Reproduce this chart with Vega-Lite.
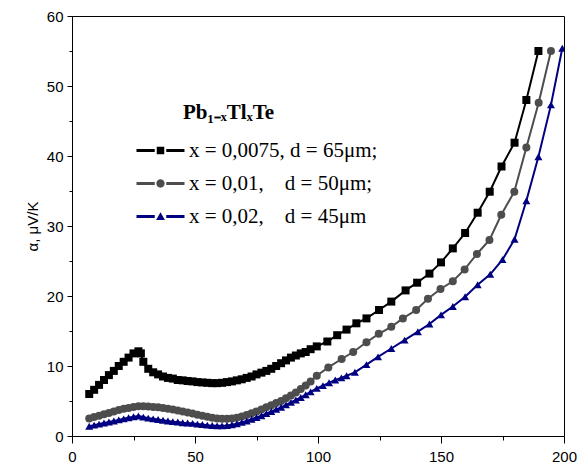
{
  "$schema": "https://vega.github.io/schema/vega-lite/v6.json",
  "width": 492,
  "height": 420,
  "autosize": "none",
  "padding": {"left": 72, "top": 16, "right": 23, "bottom": 36},
  "config": {
    "view": {"stroke": "#000000", "strokeWidth": 1},
    "axis": {
      "domainColor": "#000000", "tickColor": "#000000", "labelColor": "#000000",
      "titleColor": "#000000", "labelFont": "Liberation Sans", "titleFont": "Liberation Sans",
      "grid": false, "labelFlush": false
    }
  },
  "data": {
    "values": [
      {"s":"a","x":7,"y":6.0},{"s":"a","x":9,"y":6.6},{"s":"a","x":11,"y":7.3},{"s":"a","x":13,"y":8.0},{"s":"a","x":15,"y":8.7},{"s":"a","x":17,"y":9.3},{"s":"a","x":19,"y":10.0},{"s":"a","x":21,"y":10.6},{"s":"a","x":23,"y":11.2},{"s":"a","x":25,"y":11.8},{"s":"a","x":27,"y":12.1},{"s":"a","x":28,"y":11.8},{"s":"a","x":29,"y":10.6},{"s":"a","x":31,"y":9.6},{"s":"a","x":33,"y":9.1},{"s":"a","x":35,"y":8.8},{"s":"a","x":37,"y":8.5},{"s":"a","x":39,"y":8.3},{"s":"a","x":41,"y":8.2},{"s":"a","x":43,"y":8.0},{"s":"a","x":45,"y":7.95},{"s":"a","x":47,"y":7.85},{"s":"a","x":49,"y":7.8},{"s":"a","x":51,"y":7.7},{"s":"a","x":53,"y":7.65},{"s":"a","x":55,"y":7.6},{"s":"a","x":57,"y":7.55},{"s":"a","x":59,"y":7.55},{"s":"a","x":61,"y":7.6},{"s":"a","x":63,"y":7.7},{"s":"a","x":65,"y":7.8},{"s":"a","x":67,"y":7.95},{"s":"a","x":69,"y":8.1},{"s":"a","x":71,"y":8.3},{"s":"a","x":73,"y":8.5},{"s":"a","x":75,"y":8.8},{"s":"a","x":77,"y":9.05},{"s":"a","x":79,"y":9.3},{"s":"a","x":81,"y":9.6},{"s":"a","x":83,"y":10.0},{"s":"a","x":85,"y":10.4},{"s":"a","x":87,"y":10.8},{"s":"a","x":89,"y":11.2},{"s":"a","x":91,"y":11.5},{"s":"a","x":93,"y":11.8},{"s":"a","x":95,"y":12.0},{"s":"a","x":97,"y":12.4},{"s":"a","x":99.5,"y":12.8},{"s":"a","x":103.8,"y":13.5},{"s":"a","x":107.8,"y":14.4},{"s":"a","x":111.6,"y":15.2},{"s":"a","x":115.6,"y":16.1},{"s":"a","x":119.7,"y":16.8},{"s":"a","x":124.8,"y":18.0},{"s":"a","x":129.8,"y":19.2},{"s":"a","x":135.6,"y":20.8},{"s":"a","x":140.3,"y":21.9},{"s":"a","x":145.3,"y":23.2},{"s":"a","x":150,"y":24.8},{"s":"a","x":154.8,"y":26.8},{"s":"a","x":159.8,"y":29.0},{"s":"a","x":164.9,"y":31.9},{"s":"a","x":169.8,"y":34.9},{"s":"a","x":174.6,"y":38.5},{"s":"a","x":179.9,"y":41.9},{"s":"a","x":184.7,"y":48.0},{"s":"a","x":189.6,"y":55.0},
      {"s":"b","x":7,"y":2.5},{"s":"b","x":9,"y":2.7},{"s":"b","x":11,"y":2.9},{"s":"b","x":13,"y":3.1},{"s":"b","x":15,"y":3.3},{"s":"b","x":17,"y":3.5},{"s":"b","x":19,"y":3.7},{"s":"b","x":21,"y":3.9},{"s":"b","x":23,"y":4.0},{"s":"b","x":25,"y":4.15},{"s":"b","x":27,"y":4.25},{"s":"b","x":29,"y":4.25},{"s":"b","x":31,"y":4.2},{"s":"b","x":33,"y":4.15},{"s":"b","x":35,"y":4.1},{"s":"b","x":37,"y":4.0},{"s":"b","x":39,"y":3.9},{"s":"b","x":41,"y":3.8},{"s":"b","x":43,"y":3.65},{"s":"b","x":45,"y":3.5},{"s":"b","x":47,"y":3.35},{"s":"b","x":49,"y":3.2},{"s":"b","x":51,"y":3.05},{"s":"b","x":53,"y":2.9},{"s":"b","x":55,"y":2.75},{"s":"b","x":57,"y":2.6},{"s":"b","x":59,"y":2.5},{"s":"b","x":61,"y":2.45},{"s":"b","x":63,"y":2.45},{"s":"b","x":65,"y":2.5},{"s":"b","x":67,"y":2.6},{"s":"b","x":69,"y":2.8},{"s":"b","x":71,"y":3.0},{"s":"b","x":73,"y":3.25},{"s":"b","x":75,"y":3.5},{"s":"b","x":77,"y":3.8},{"s":"b","x":79,"y":4.1},{"s":"b","x":81,"y":4.4},{"s":"b","x":83,"y":4.7},{"s":"b","x":85,"y":5.0},{"s":"b","x":87,"y":5.4},{"s":"b","x":89,"y":5.8},{"s":"b","x":91,"y":6.2},{"s":"b","x":93,"y":6.7},{"s":"b","x":95,"y":7.2},{"s":"b","x":97,"y":7.8},{"s":"b","x":99.5,"y":8.6},{"s":"b","x":104.2,"y":9.8},{"s":"b","x":109.6,"y":11.0},{"s":"b","x":114.3,"y":12.0},{"s":"b","x":119.7,"y":13.4},{"s":"b","x":124.7,"y":14.6},{"s":"b","x":129.8,"y":15.6},{"s":"b","x":134.5,"y":16.8},{"s":"b","x":139.9,"y":18.0},{"s":"b","x":144.7,"y":19.6},{"s":"b","x":149.8,"y":21.0},{"s":"b","x":154.8,"y":22.1},{"s":"b","x":159.6,"y":23.8},{"s":"b","x":164.6,"y":26.0},{"s":"b","x":169.7,"y":28.0},{"s":"b","x":174.5,"y":31.6},{"s":"b","x":179.8,"y":34.9},{"s":"b","x":184.7,"y":41.2},{"s":"b","x":189.7,"y":47.6},{"s":"b","x":194.7,"y":55.0},
      {"s":"c","x":7,"y":1.4},{"s":"c","x":9,"y":1.55},{"s":"c","x":11,"y":1.7},{"s":"c","x":13,"y":1.85},{"s":"c","x":15,"y":2.0},{"s":"c","x":17,"y":2.15},{"s":"c","x":19,"y":2.3},{"s":"c","x":21,"y":2.45},{"s":"c","x":23,"y":2.6},{"s":"c","x":25,"y":2.75},{"s":"c","x":27,"y":2.85},{"s":"c","x":29,"y":2.7},{"s":"c","x":31,"y":2.55},{"s":"c","x":33,"y":2.45},{"s":"c","x":35,"y":2.35},{"s":"c","x":37,"y":2.25},{"s":"c","x":39,"y":2.15},{"s":"c","x":41,"y":2.05},{"s":"c","x":43,"y":2.0},{"s":"c","x":45,"y":1.9},{"s":"c","x":47,"y":1.85},{"s":"c","x":49,"y":1.8},{"s":"c","x":51,"y":1.7},{"s":"c","x":53,"y":1.65},{"s":"c","x":55,"y":1.55},{"s":"c","x":57,"y":1.5},{"s":"c","x":59,"y":1.45},{"s":"c","x":61,"y":1.45},{"s":"c","x":63,"y":1.5},{"s":"c","x":65,"y":1.6},{"s":"c","x":67,"y":1.75},{"s":"c","x":69,"y":1.95},{"s":"c","x":71,"y":2.15},{"s":"c","x":73,"y":2.4},{"s":"c","x":75,"y":2.65},{"s":"c","x":77,"y":2.9},{"s":"c","x":79,"y":3.2},{"s":"c","x":81,"y":3.5},{"s":"c","x":83,"y":3.8},{"s":"c","x":85,"y":4.1},{"s":"c","x":87,"y":4.45},{"s":"c","x":89,"y":4.8},{"s":"c","x":91,"y":5.15},{"s":"c","x":93,"y":5.5},{"s":"c","x":95,"y":5.9},{"s":"c","x":97,"y":6.3},{"s":"c","x":99.5,"y":6.8},{"s":"c","x":102,"y":7.2},{"s":"c","x":104.5,"y":7.6},{"s":"c","x":107,"y":8.0},{"s":"c","x":109.5,"y":8.3},{"s":"c","x":111.6,"y":8.6},{"s":"c","x":115,"y":9.1},{"s":"c","x":119.7,"y":10.2},{"s":"c","x":124.4,"y":11.3},{"s":"c","x":129.8,"y":12.5},{"s":"c","x":135.2,"y":13.7},{"s":"c","x":140.6,"y":14.9},{"s":"c","x":145.3,"y":16.0},{"s":"c","x":150,"y":17.3},{"s":"c","x":154.8,"y":18.5},{"s":"c","x":159.8,"y":19.9},{"s":"c","x":164.9,"y":21.6},{"s":"c","x":170,"y":23.1},{"s":"c","x":175,"y":25.2},{"s":"c","x":179.9,"y":28.1},{"s":"c","x":184.7,"y":33.6},{"s":"c","x":189.6,"y":39.9},{"s":"c","x":194.7,"y":47.3},{"s":"c","x":199.3,"y":55.4}
    ]
  },
  "encoding": {
    "x": {
      "field": "x", "type": "quantitative",
      "scale": {"domain": [0, 200], "nice": false, "zero": false},
      "axis": {
        "title": null,
        "values": [0, 25, 50, 75, 100, 125, 150, 175, 200],
        "labelExpr": "datum.value % 50 === 0 ? datum.label : ''",
        "tickSize": {"condition": {"test": "datum.value % 50 === 0", "value": 7}, "value": 4},
        "labelFontSize": 15, "labelPadding": 6
      }
    },
    "y": {
      "field": "y", "type": "quantitative",
      "scale": {"domain": [0, 60], "nice": false},
      "axis": {
        "title": "α, μV/K",
        "values": [0, 5, 10, 15, 20, 25, 30, 35, 40, 45, 50, 55, 60],
        "labelExpr": "datum.value % 10 === 0 ? datum.label : ''",
        "tickSize": {"condition": {"test": "datum.value % 10 === 0", "value": 5}, "value": 3},
        "labelFontSize": 15, "labelPadding": 4, "titleFontSize": 15, "titleFontWeight": "normal", "titlePadding": 6
      }
    },
    "color": {"field": "s", "type": "nominal",
      "scale": {"domain": ["a", "b", "c"], "range": ["#000000", "#4d4d4d", "#000080"]},
      "legend": {
        "orient": "none", "legendX": 62, "legendY": 86,
        "title": "Pb₁₋ₓTlₓTe",
        "titleFont": "Liberation Serif", "titleFontSize": 21, "titleFontWeight": "bold", "titleColor": "#000000", "titlePadding": 17,
        "labelFont": "Liberation Serif", "labelFontSize": 21, "labelColor": "#000000", "labelLimit": 400,
        "labelExpr": "datum.value === 'a' ? 'x = 0,0075, d = 65μm;' : datum.value === 'b' ? 'x = 0,01,\u00a0\u00a0\u00a0\u00a0d = 50μm;' : 'x = 0,02,\u00a0\u00a0\u00a0\u00a0d = 45μm'",
        "symbolSize": 256, "symbolOffset": 16, "labelOffset": 18, "rowPadding": 11,
        "encode": {
          "symbols": {"update": {
            "shape": {"signal": "datum.value === 'a' ? 'M-3,-0.2H-0.72V0.2H-3Z M-0.47,-0.47H0.47V0.47H-0.47Z M0.72,-0.2H3V0.2H0.72Z' : datum.value === 'b' ? 'M-3,-0.2H-0.72V0.2H-3Z M-0.52,0A0.52,0.52 0 1,0 0.52,0A0.52,0.52 0 1,0 -0.52,0Z M0.72,-0.2H3V0.2H0.72Z' : 'M-3,-0.2H-0.72V0.2H-3Z M0,-0.52L0.55,0.44L-0.55,0.44Z M0.72,-0.2H3V0.2H0.72Z'"},
            "fill": {"signal": "datum.value === 'a' ? '#000000' : datum.value === 'b' ? '#4d4d4d' : '#000080'"},
            "stroke": {"value": "transparent"},
            "strokeWidth": {"value": 0},
            "opacity": {"value": 1},
            "size": {"value": 256}
          }},
          "title": {"update": {"dx": {"value": 49}}}
        }
      }
    }
  },
  "layer": [
    {
      "mark": {"type": "line", "strokeWidth": 2, "clip": true}
    },
    {
      "transform": [{"filter": "datum.s === 'a'"}],
      "mark": {"type": "point", "shape": "square", "filled": true, "opacity": 1, "size": 64, "clip": true}
    },
    {
      "transform": [{"filter": "datum.s === 'b'"}],
      "mark": {"type": "point", "shape": "circle", "filled": true, "opacity": 1, "size": 64, "clip": true}
    },
    {
      "transform": [{"filter": "datum.s === 'c'"}],
      "mark": {"type": "point", "shape": "triangle-up", "filled": true, "opacity": 1, "size": 64, "clip": true}
    }
  ]
}
